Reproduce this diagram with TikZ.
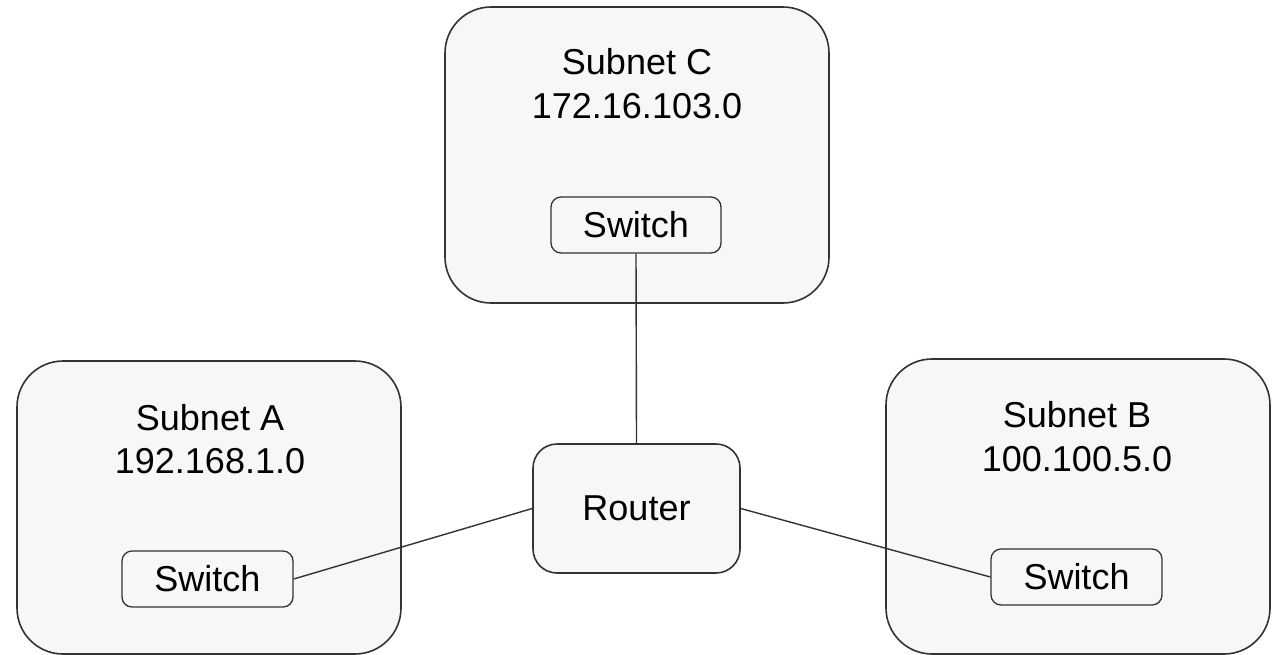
\documentclass[tikz,border=0pt]{standalone}
\usepackage{fontspec}
\setmainfont{Liberation Sans}
\definecolor{boxfill}{HTML}{F7F7F7}
\definecolor{boxline}{HTML}{333333}
\begin{document}
\begin{tikzpicture}[x=1pt,y=-1pt,
  subnetbox/.style={draw=boxline,fill=boxfill,line width=1.6pt,rounded corners=46pt},
  devbox/.style={draw=boxline,fill=boxfill,line width=1.3pt,rounded corners=10pt,inner sep=0pt,font=\fontsize{36}{40}\selectfont},
  routerbox/.style={draw=boxline,fill=boxfill,line width=1.6pt,rounded corners=24pt,inner sep=0pt,font=\fontsize{36}{40}\selectfont},
  lbl/.style={font=\fontsize{36}{40}\selectfont,inner sep=0pt,anchor=base},
  link/.style={draw=boxline,line width=1.4pt}]
\useasboundingbox (0,0) rectangle (1281,654);
% subnet boxes
\draw[subnetbox] (445,7) rectangle (829,303);
\draw[subnetbox] (17,361) rectangle (401,654);
\draw[subnetbox] (886,359) rectangle (1270,654);
% subnet labels
\node[lbl] (labC1) at (637,74) {Subnet C};
\node[lbl] (labC2) at (637,118) {172.16.103.0};
\node[lbl] (labA1) at (210,430) {Subnet A};
\node[lbl] (labA2) at (210,473) {192.168.1.0};
\node[lbl] (labB1) at (1077,427) {Subnet B};
\node[lbl] (labB2) at (1077,471) {100.100.5.0};
% devices
\node[devbox,minimum width=170pt,minimum height=56pt] (swC) at (636,225) {Switch};
\node[devbox,minimum width=171pt,minimum height=56pt] (swA) at (207.5,579) {Switch};
\node[devbox,minimum width=171pt,minimum height=56pt] (swB) at (1076.5,577) {Switch};
\node[routerbox,minimum width=207pt,minimum height=129pt] (router) at (636.5,508.5) {Router};
% links
\draw[link] (swC.south) -- (router.north);
\draw[link] (router.west) -- (swA.east);
\draw[link] (router.east) -- (swB.west);
\end{tikzpicture}
\end{document}
